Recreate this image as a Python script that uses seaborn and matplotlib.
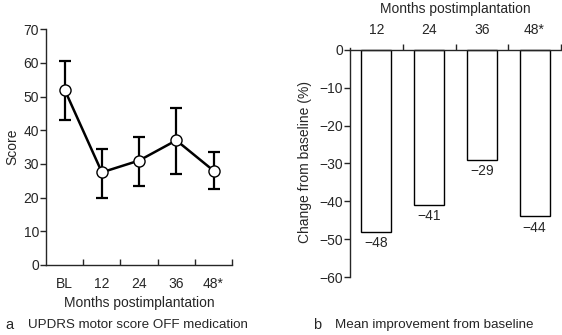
import seaborn as sns
import pandas as pd
import numpy as np
import matplotlib.pyplot as plt

# panel a: UPDRS motor score
months = ["BL", "12", "24", "36", "48*"]
score_mean = [52, 27.5, 31, 37, 28]
score_low = [43, 20, 23.5, 27, 22.5]
score_high = [60.5, 34.5, 38, 46.5, 33.5]

# panel b: change from baseline (%)
months_b = ["12", "24", "36", "48*"]
change = [-48, -41, -29, -44]
change_labels = ["\u221248", "\u221241", "\u221229", "\u221244"]

sns.set_style("ticks")
plt.rcParams['font.family'] = ['Liberation Sans', 'DejaVu Sans']
plt.rcParams['font.size'] = 10

fig = plt.figure(figsize=(5.62, 3.35), dpi=100)

# ---- panel a ----
ax1 = fig.add_axes([0.082, 0.209, 0.331, 0.704])
dfa = pd.DataFrame({"pos": np.arange(len(months)), "score": score_mean})
yerr = [np.array(score_mean) - np.array(score_low),
        np.array(score_high) - np.array(score_mean)]
ax1.errorbar(dfa["pos"], dfa["score"], yerr=yerr, fmt="none", ecolor="black",
             elinewidth=1.6, capsize=4, capthick=1.6, zorder=2)
sns.lineplot(data=dfa, x="pos", y="score", ax=ax1, color="black", lw=1.8,
             marker="o", markersize=8, markerfacecolor="white",
             markeredgecolor="black", markeredgewidth=1.0, zorder=3)
ax1.set_xlim(-0.5, 4.5)
ax1.set_ylim(0, 70)
ax1.set_yticks(range(0, 71, 10))
ax1.set_xticks(np.arange(0.5, 4.6, 1))
ax1.set_xticklabels([])
ax1.set_xticks(np.arange(len(months)), minor=True)
ax1.set_xticklabels(months, minor=True)
ax1.tick_params(axis="x", which="major", direction="in", length=4, width=1)
ax1.tick_params(axis="x", which="minor", length=0, pad=9)
ax1.tick_params(axis="y", direction="out", length=4, width=1, pad=1)
ax1.set_xlabel("Months postimplantation", labelpad=3)
ax1.set_ylabel("Score", labelpad=3)
sns.despine(ax=ax1)
for s in ax1.spines.values():
    s.set_linewidth(1)

# ---- panel b ----
ax2 = fig.add_axes([0.623, 0.173, 0.375, 0.684])
dfb = pd.DataFrame({"month": months_b, "change": change})
sns.barplot(data=dfb, x="month", y="change", ax=ax2, color="white",
            edgecolor="black", linewidth=1, width=0.57, saturation=1)
ax2.bar_label(ax2.containers[0], labels=change_labels, padding=3)
ax2.set_xlim(-0.5, 3.5)
ax2.set_ylim(-60, 0.5)
ax2.set_yticks(range(-60, 1, 10))
ax2.xaxis.tick_top()
ax2.xaxis.set_label_position("top")
ax2.set_xticks(np.arange(0.5, 3.6, 1))
ax2.set_xticklabels([])
ax2.set_xticks(np.arange(len(months_b)), minor=True)
ax2.set_xticklabels(months_b, minor=True)
ax2.tick_params(axis="x", which="major", direction="out", length=4, width=1, top=True, bottom=False)
ax2.tick_params(axis="x", which="minor", length=0, pad=9, top=True, bottom=False,
                labeltop=True, labelbottom=False)
ax2.tick_params(axis="y", direction="out", length=4, width=1, pad=1)
ax2.set_xlabel("Months postimplantation", labelpad=7.5)
ax2.set_ylabel("Change from baseline (%)", labelpad=5)
ax2.spines["right"].set_visible(False)
ax2.spines["bottom"].set_visible(False)
ax2.spines["top"].set_position(("data", 0))
for s in ax2.spines.values():
    s.set_linewidth(1)

# captions
fig.text(5 / 562, 1 - 325 / 335, "a", va="center", ha="left", fontsize=10.5)
fig.text(28 / 562, 1 - 325 / 335, "UPDRS motor score OFF medication", va="center", ha="left", fontsize=9.6)
fig.text(313 / 562, 1 - 325 / 335, "b", va="center", ha="left", fontsize=10.5)
fig.text(335 / 562, 1 - 325 / 335, "Mean improvement from baseline", va="center", ha="left", fontsize=9.6)

fig.savefig("out.png", dpi=100)
